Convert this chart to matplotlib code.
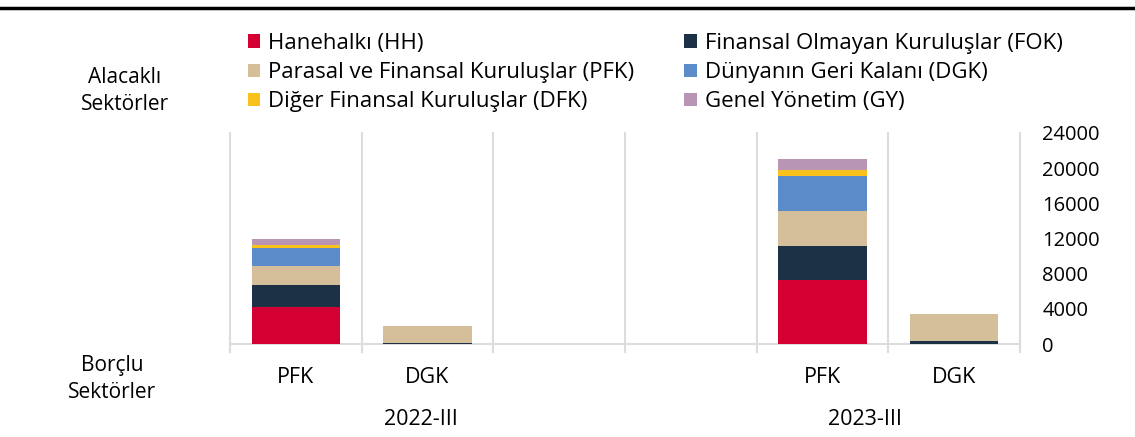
import numpy as np
import matplotlib.pyplot as plt
from matplotlib.patches import Patch
from matplotlib.lines import Line2D

plt.rcParams['font.family'] = ['Open Sans', 'DejaVu Sans']

# data, stacked bottom -> top
debtors = ['PFK', 'DGK', '', '', 'PFK', 'DGK']
periods = ['2022-III', '2023-III']
series = ['Hanehalkı (HH)', 'Finansal Olmayan Kuruluşlar (FOK)',
          'Parasal ve Finansal Kuruluşlar (PFK)', 'Dünyanın Geri Kalanı (DGK)',
          'Diğer Finansal Kuruluşlar (DFK)', 'Genel Yönetim (GY)']
hh = [4250, 0, 0, 0, 7230, 0]
fok = [2480, 150, 0, 0, 3970, 350]
pfk = [2150, 1900, 0, 0, 3900, 3030]
dgk = [2070, 0, 0, 0, 3980, 0]
dfk = [270, 0, 0, 0, 690, 0]
gy = [690, 0, 0, 0, 1300, 0]
colors = ['#D50032', '#1D3146', '#D4BF9A', '#5B8BC8', '#F9C11B', '#B895B5']

fig = plt.figure(figsize=(11.35, 4.37), dpi=100)
ax = fig.add_axes([230 / 1135, 93 / 437, 790 / 1135, 211 / 437])

x = np.arange(len(debtors))
bottom = np.zeros(len(debtors))
for vals, col in zip([hh, fok, pfk, dgk, dfk, gy], colors):
    ax.bar(x, vals, width=0.67, bottom=bottom, color=col, zorder=3)
    bottom += np.array(vals)

ax.set_xlim(-0.5, len(debtors) - 0.5)
ax.set_ylim(0, 24000)
ax.set_yticks(np.arange(0, 24001, 4000))
ax.yaxis.tick_right()
ax.tick_params(axis='y', length=0, labelsize=14.5, pad=16)
ax.set_xticks([])
for s in ['top', 'left', 'right']:
    ax.spines[s].set_visible(False)
ax.spines['bottom'].set_color('#dcdcdc')
ax.spines['bottom'].set_linewidth(1.5)

# vertical separators
for b in np.arange(-0.5, len(debtors), 1.0):
    ax.plot([b, b], [-0.04, 1.0], transform=ax.get_xaxis_transform(),
            color='#dcdcdc', lw=1.5, clip_on=False, zorder=1)

# category labels
for xi, lab in zip(x, debtors):
    ax.text(xi, -0.16, lab, transform=ax.get_xaxis_transform(),
            ha='center', va='center', fontsize=15.5)
# period labels sit where the original places them
for xi, lab in zip([0.95, 4.32], periods):
    ax.text(xi, -0.36, lab, transform=ax.get_xaxis_transform(),
            ha='center', va='center', fontsize=15.5)

fig.text(125 / 1135, 1 - 91 / 437, 'Alacaklı\nSektörler', ha='center', va='center',
         fontsize=15, linespacing=1.35)
fig.text(112 / 1135, 1 - 379 / 437, 'Borçlu\nSektörler', ha='center', va='center',
         fontsize=15, linespacing=1.35)

# legend: column-wise fill
order = [0, 2, 4, 1, 3, 5]
handles = [Patch(facecolor=colors[i], label=series[i]) for i in order]
fig.legend(handles=handles, ncol=2, loc='upper left',
           bbox_to_anchor=(248 / 1135, 1 - 33 / 437), frameon=False,
           fontsize=16, handlelength=0.55, handleheight=0.55,
           handletextpad=0.36, columnspacing=2.25, labelspacing=0.37,
           borderaxespad=0, borderpad=0)

fig.add_artist(Line2D([0, 1], [1 - 8 / 437, 1 - 8 / 437], color='black', lw=2.5))

fig.savefig('out.png', dpi=100)
